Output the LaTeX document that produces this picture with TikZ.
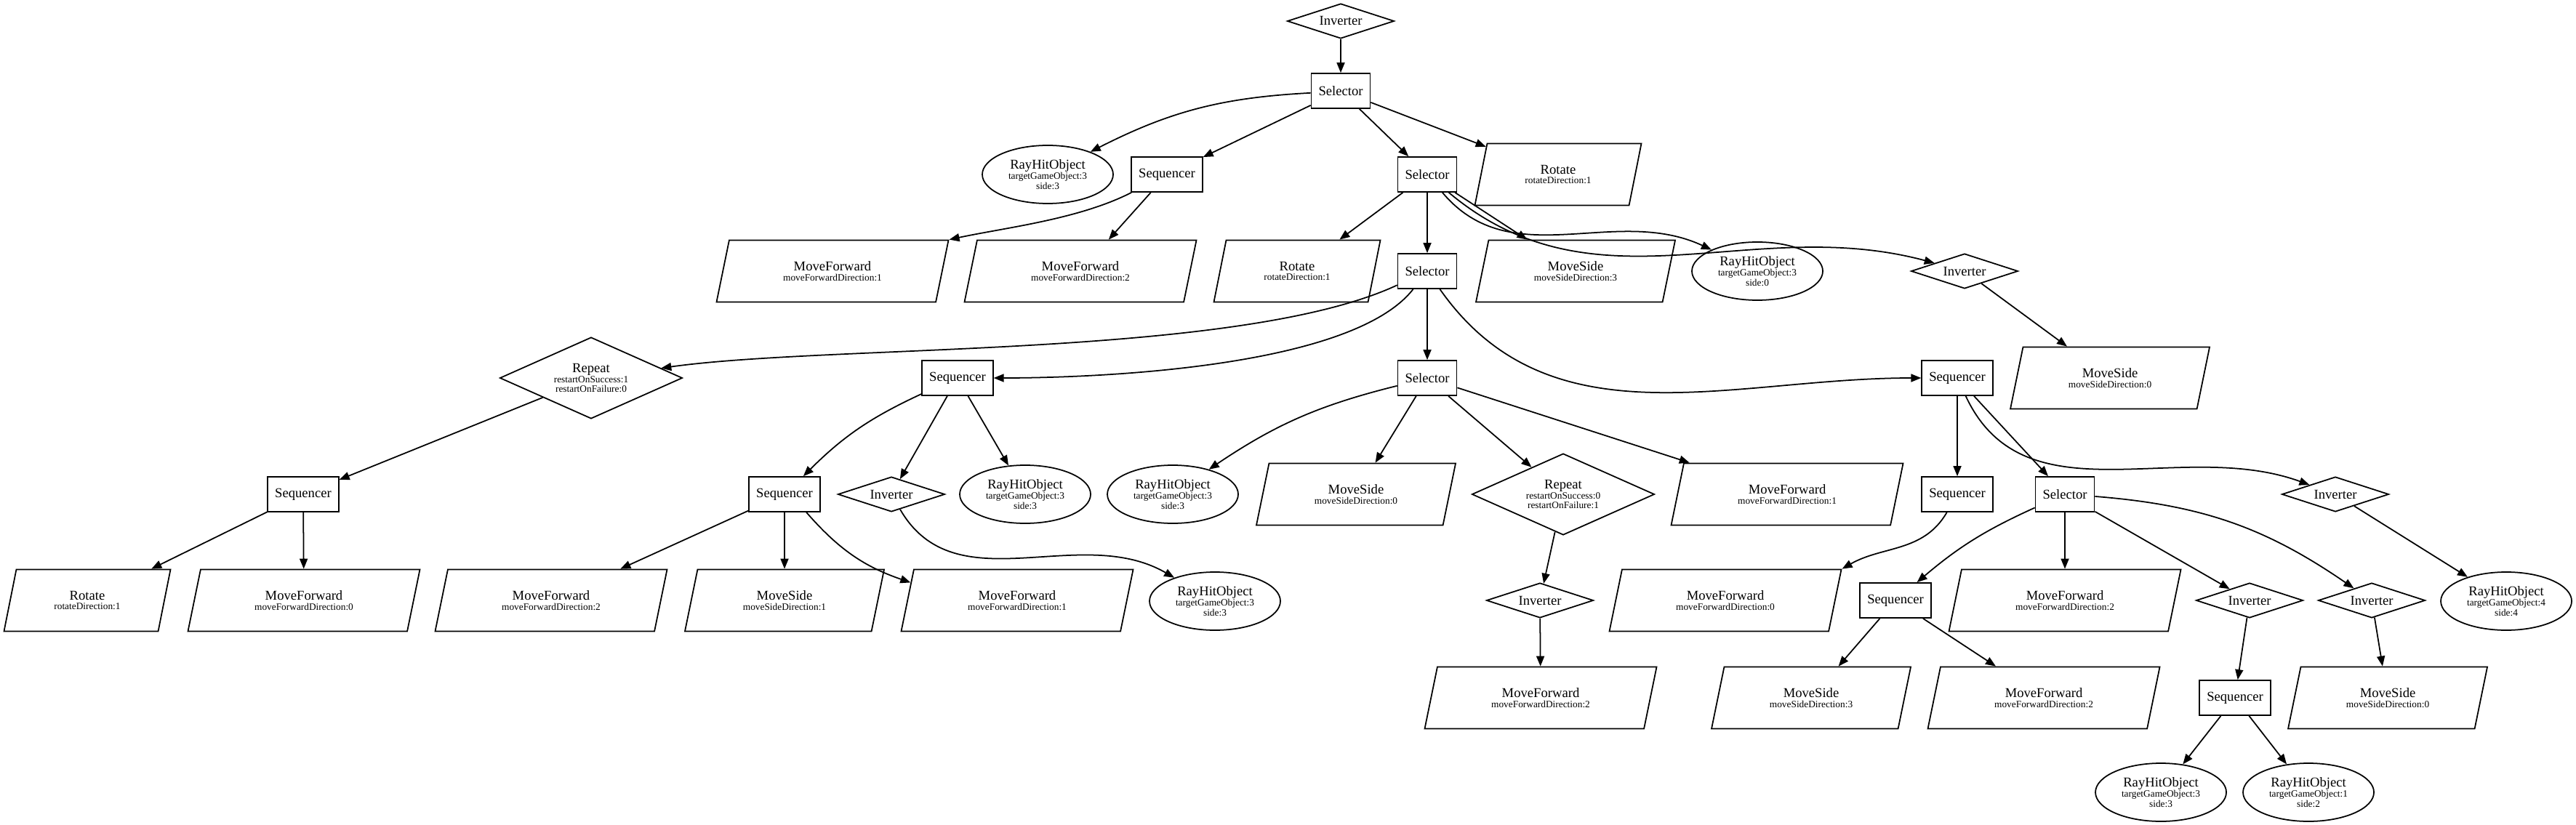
\documentclass[tikz,border=0pt]{standalone}
\usepackage{fontspec}
\setmainfont{Liberation Serif}
\usepackage{tikz}
\usetikzlibrary{shapes.geometric,arrows.meta}

\newcommand{\prm}[1]{{\fontsize{3.8}{3.9}\selectfont #1}}

\begin{document}
\begin{tikzpicture}[->,>={Triangle[length=1.4mm,width=1.1mm]},line width=0.5pt,
  every node/.style={font=\fontsize{5.3}{3.9}\selectfont,align=center},
  comp node/.style={rectangle,draw,minimum height=0.48cm,inner xsep=1mm,inner ysep=0pt},
  dec node/.style={diamond,draw,aspect=3,inner sep=0pt,minimum width=1.47cm,minimum height=0.48cm},
  rep node/.style={dec node,minimum width=2.51cm,minimum height=1.12cm},
  act node/.style={trapezium,draw,trapezium left angle=57,trapezium right angle=123,
    trapezium stretches body,inner sep=0pt,minimum height=0.85cm,minimum width=#1},
  act node/.default=3.19cm,
  cond node/.style={ellipse,draw,inner sep=0pt,minimum width=1.8cm,minimum height=0.8cm}]

  \useasboundingbox (0,0) rectangle (35.43,-11.35);

  \node[dec node] (1) at (18.44,-0.29) {Inverter};
  \node[comp node] (2) at (18.44,-1.25) {Selector};

  \node[cond node] (3) at (14.41,-2.40) {RayHitObject\\\prm{targetGameObject:3}\\\prm{side:3}};
  \node[comp node] (4) at (16.05,-2.40) {Sequencer};
  \node[comp node] (5) at (19.63,-2.40) {Selector};
  \node[act node=2.29cm] (6) at (21.43,-2.40) {Rotate\\\prm{rotateDirection:1}};

  \node[act node] (7) at (11.45,-3.73) {MoveForward\\\prm{moveForwardDirection:1}};
  \node[act node] (8) at (14.86,-3.73) {MoveForward\\\prm{moveForwardDirection:2}};
  \node[act node=2.29cm] (9) at (17.84,-3.73) {Rotate\\\prm{rotateDirection:1}};
  \node[comp node] (10) at (19.63,-3.73) {Selector};
  \node[act node=2.74cm] (11) at (21.67,-3.73) {MoveSide\\\prm{moveSideDirection:3}};
  \node[cond node] (12) at (24.17,-3.73) {RayHitObject\\\prm{targetGameObject:3}\\\prm{side:0}};
  \node[dec node] (13) at (27.02,-3.73) {Inverter};

  \node[rep node] (14) at (8.13,-5.20) {Repeat\\\prm{restartOnSuccess:1}\\\prm{restartOnFailure:0}};
  \node[comp node] (15) at (13.17,-5.20) {Sequencer};
  \node[comp node] (16) at (19.63,-5.20) {Selector};
  \node[comp node] (17) at (26.92,-5.20) {Sequencer};
  \node[act node=2.74cm] (18) at (29.02,-5.20) {MoveSide\\\prm{moveSideDirection:0}};

  \node[comp node] (19) at (4.17,-6.80) {Sequencer};
  \node[comp node] (20) at (10.79,-6.80) {Sequencer};
  \node[dec node] (21) at (12.26,-6.80) {Inverter};
  \node[cond node] (22) at (14.10,-6.80) {RayHitObject\\\prm{targetGameObject:3}\\\prm{side:3}};
  \node[cond node] (23) at (16.13,-6.80) {RayHitObject\\\prm{targetGameObject:3}\\\prm{side:3}};
  \node[act node=2.74cm] (24) at (18.65,-6.80) {MoveSide\\\prm{moveSideDirection:0}};
  \node[rep node] (25) at (21.50,-6.80) {Repeat\\\prm{restartOnSuccess:0}\\\prm{restartOnFailure:1}};
  \node[act node] (26) at (24.58,-6.80) {MoveForward\\\prm{moveForwardDirection:1}};
  \node[comp node] (27) at (26.92,-6.80) {Sequencer};
  \node[comp node] (28) at (28.40,-6.80) {Selector};
  \node[dec node] (29) at (32.12,-6.80) {Inverter};

  \node[act node=2.29cm] (30) at (1.20,-8.26) {Rotate\\\prm{rotateDirection:1}};
  \node[act node] (31) at (4.18,-8.26) {MoveForward\\\prm{moveForwardDirection:0}};
  \node[act node] (32) at (7.58,-8.26) {MoveForward\\\prm{moveForwardDirection:2}};
  \node[act node=2.74cm] (33) at (10.79,-8.26) {MoveSide\\\prm{moveSideDirection:1}};
  \node[act node] (34) at (13.99,-8.26) {MoveForward\\\prm{moveForwardDirection:1}};
  \node[cond node] (35) at (16.71,-8.27) {RayHitObject\\\prm{targetGameObject:3}\\\prm{side:3}};
  \node[dec node] (36) at (21.18,-8.26) {Inverter};
  \node[act node] (37) at (23.73,-8.26) {MoveForward\\\prm{moveForwardDirection:0}};
  \node[comp node] (38) at (26.07,-8.26) {Sequencer};
  \node[act node] (39) at (28.40,-8.26) {MoveForward\\\prm{moveForwardDirection:2}};
  \node[dec node] (40) at (30.94,-8.26) {Inverter};
  \node[dec node] (41) at (32.62,-8.26) {Inverter};
  \node[cond node] (42) at (34.47,-8.27) {RayHitObject\\\prm{targetGameObject:4}\\\prm{side:4}};

  \node[act node] (43) at (21.19,-9.60) {MoveForward\\\prm{moveForwardDirection:2}};
  \node[act node=2.74cm] (44) at (24.91,-9.60) {MoveSide\\\prm{moveSideDirection:3}};
  \node[act node] (45) at (28.11,-9.60) {MoveForward\\\prm{moveForwardDirection:2}};
  \node[comp node] (46) at (30.74,-9.60) {Sequencer};
  \node[act node=2.74cm] (47) at (32.84,-9.60) {MoveSide\\\prm{moveSideDirection:0}};

  \node[cond node] (48) at (29.72,-10.90) {RayHitObject\\\prm{targetGameObject:3}\\\prm{side:3}};
  \node[cond node] (49) at (31.75,-10.90) {RayHitObject\\\prm{targetGameObject:1}\\\prm{side:2}};

  \path
  (1) edge (2)
  (2) edge [bend right=12] (3)
      edge (4)
      edge (5)
      edge (6)
  (4) edge [out=207,in=12,looseness=0.8] (7.top right corner)
      edge (8)
  (5) edge (9)
      edge (10)
      edge (11)
      edge [out=-50,in=155] (12)
      edge [out=-40,in=165] (13)
  (13) edge (18)
  (10) edge [out=205,in=8,looseness=0.6] (14)
       edge [out=232,in=0,looseness=0.6] (15)
       edge (16)
       edge [out=-55,in=180] (17)
  (14) edge (19)
  (19) edge (30)
       edge (31)
  (15) edge [bend right=10] (20)
       edge (21)
       edge (22)
  (20) edge (32)
       edge (33)
       edge [bend right=15] (34)
  (21) edge [out=-60,in=150] (35)
  (16) edge [bend right=10] (23)
       edge (24)
       edge (25)
       edge (26)
  (25) edge (36)
  (36) edge (43)
  (17) edge (27)
       edge (28)
       edge [out=-65,in=160] (29)
  (27) edge [out=240,in=30] (37.top right corner)
  (28) edge [bend right=8] (38)
       edge (39)
       edge (40)
       edge [bend left=15] (41)
  (29) edge (42)
  (38) edge (44)
       edge (45)
  (40) edge (46)
  (41) edge (47)
  (46) edge (48)
       edge (49)
  ;
\end{tikzpicture}
\end{document}
